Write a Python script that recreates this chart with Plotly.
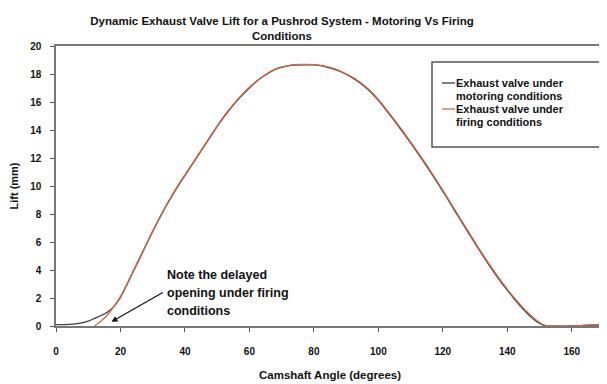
import plotly.graph_objects as go

# ---- data ----
series_names = ["Exhaust valve under motoring conditions",
                "Exhaust valve under firing conditions"]
legend_lines = [["Exhaust valve under", "motoring conditions"],
                ["Exhaust valve under", "firing conditions"]]

angle_motoring = [0, 2, 4, 6, 8, 10, 12, 14, 16, 18, 20, 22, 24, 26, 28, 30, 32, 34, 36, 38,
                  40, 42, 44, 46, 48, 50, 52, 54, 56, 58, 60, 62, 64, 66, 68, 70, 72, 74, 76,
                  78, 80, 82, 84, 86, 88, 90, 92, 94, 96, 98, 100, 102, 104, 106, 108, 110,
                  112, 114, 116, 118, 120, 122, 124, 126, 128, 130, 132, 134, 136, 138, 140,
                  142, 144, 146, 148, 150, 152, 160, 170]
lift_motoring = [0.1, 0.1, 0.12, 0.15, 0.22, 0.35, 0.55, 0.75, 1.0, 1.4, 2.05, 2.95, 3.9, 4.85,
                 5.8, 6.75, 7.65, 8.5, 9.3, 10.05, 10.75, 11.45, 12.15, 12.85, 13.55, 14.25,
                 14.9, 15.5, 16.05, 16.55, 17.0, 17.42, 17.78, 18.08, 18.32, 18.48, 18.58,
                 18.64, 18.66, 18.66, 18.65, 18.6, 18.5, 18.37, 18.2, 17.98, 17.72, 17.42,
                 17.05, 16.62, 16.12, 15.55, 14.95, 14.35, 13.72, 13.08, 12.42, 11.75, 11.06,
                 10.35, 9.62, 8.88, 8.12, 7.38, 6.64, 5.9, 5.18, 4.48, 3.8, 3.16, 2.56, 1.98,
                 1.45, 0.95, 0.52, 0.18, 0.0, 0.0, 0.0]

angle_firing = [12, 14, 16, 18, 20, 22, 24, 26, 28, 30, 32, 34, 36, 38, 40, 42, 44, 46, 48, 50,
                52, 54, 56, 58, 60, 62, 64, 66, 68, 70, 72, 74, 76, 78, 80, 82, 84, 86, 88, 90,
                92, 94, 96, 98, 100, 102, 104, 106, 108, 110, 112, 114, 116, 118, 120, 122, 124,
                126, 128, 130, 132, 134, 136, 138, 140, 142, 144, 146, 148, 150, 152, 154, 162,
                164, 166, 168, 170]
lift_firing = [0.0, 0.35, 0.8, 1.4, 2.1, 3.0, 3.95, 4.9, 5.85, 6.8, 7.7, 8.55, 9.35, 10.1,
               10.8, 11.5, 12.2, 12.9, 13.6, 14.3, 14.95, 15.55, 16.1, 16.6, 17.05, 17.45,
               17.8, 18.1, 18.35, 18.5, 18.6, 18.66, 18.68, 18.68, 18.67, 18.62, 18.53, 18.4,
               18.23, 18.02, 17.77, 17.47, 17.1, 16.68, 16.18, 15.62, 15.02, 14.42, 13.8,
               13.16, 12.5, 11.83, 11.14, 10.43, 9.7, 8.96, 8.2, 7.46, 6.72, 5.98, 5.26, 4.56,
               3.88, 3.24, 2.64, 2.06, 1.53, 1.03, 0.6, 0.25, 0.03, 0.0, 0.0, 0.08, 0.1, 0.1,
               0.08]

x_ticks = [0, 20, 40, 60, 80, 100, 120, 140, 160]
y_ticks = [0, 2, 4, 6, 8, 10, 12, 14, 16, 18, 20]

title_text = "Dynamic Exhaust Valve Lift for a Pushrod System - Motoring Vs Firing<br>Conditions"
x_title = "Camshaft Angle (degrees)"
y_title = "Lift (mm)"
note_lines = ["Note the delayed", "opening under firing", "conditions"]

colors = ["#3c3c3c", "#cf6a4a"]
FONT = "Liberation Sans, Arial, sans-serif"

fig = go.Figure()
fig.add_trace(go.Scatter(x=angle_motoring, y=lift_motoring, mode="lines",
                         name=series_names[0], line=dict(color=colors[0], width=1.3,
                                                         shape="spline", smoothing=0.6),
                         showlegend=False))
fig.add_trace(go.Scatter(x=angle_firing, y=lift_firing, mode="lines",
                         name=series_names[1], line=dict(color=colors[1], width=1.3,
                                                         shape="spline", smoothing=0.6),
                         showlegend=False))

# page has an 8px body margin: figure pixel = page pixel - 8
OFF = 8
W, H = 599, 376
L, R, T, B = 56 - OFF, 3, 46 - OFF, 376 - (326 - OFF)

def px_x(p):
    return (p - OFF - L) / (W - L - R)

def px_y(p):
    return 1 - (p - OFF - T) / (H - T - B)

# manual legend (box, sample lines, text)
fig.add_shape(type="rect", xref="paper", yref="paper",
              x0=px_x(432), x1=px_x(600), y0=px_y(147), y1=px_y(62),
              line=dict(color="#555555", width=1.5), fillcolor="white", layer="above")
entry_y = [(83, 96), (109, 122)]
for i, (ya, yb) in enumerate(entry_y):
    fig.add_shape(type="line", xref="paper", yref="paper",
                  x0=px_x(442), x1=px_x(455), y0=px_y(ya), y1=px_y(ya),
                  line=dict(color=colors[i], width=1.3), layer="above")
    for txt, yy in zip(legend_lines[i], (ya, yb)):
        fig.add_annotation(text=txt, xref="paper", yref="paper",
                           x=px_x(455), y=px_y(yy), xanchor="left", yanchor="middle",
                           showarrow=False, borderpad=0,
                           font=dict(family=FONT, size=11, color="#111", weight="bold"))

# note annotation
for txt, yy in zip(note_lines, (275, 293, 311)):
    fig.add_annotation(text=txt, xref="paper", yref="paper",
                       x=px_x(166), y=px_y(yy), xanchor="left", yanchor="middle",
                       showarrow=False, borderpad=0,
                       font=dict(family=FONT, size=12.5, color="#111", weight="bold"))
fig.add_annotation(text="", x=17.2, y=0.3, xref="x", yref="y",
                   ax=33.6, ay=2.45, axref="x", ayref="y",
                   showarrow=True, arrowhead=2, arrowsize=1, arrowwidth=1.2,
                   arrowcolor="#111", standoff=0, startstandoff=0)

axis_font = dict(family=FONT, size=10, color="#111", weight="bold")
fig.update_layout(
    width=W, height=H,
    margin=dict(l=L, r=R, t=T, b=B, autoexpand=False),
    paper_bgcolor="white", plot_bgcolor="white",
    title=dict(text=title_text, x=(282 - OFF) / W, xanchor="center",
               y=1 - 17 / H, yanchor="top", yref="container", automargin=False,
               font=dict(family=FONT, size=11.5, color="#111", weight="bold")),
    xaxis=dict(range=[0, 170], tickvals=x_ticks, ticks="outside", ticklen=4,
               tickcolor="#555", tickwidth=1.2, showgrid=False, zeroline=False,
               showline=True, linecolor="#777", linewidth=1.5, mirror=True,
               tickfont=axis_font, ticklabelstandoff=11, automargin=False,
               title=dict(text=x_title, standoff=15,
                          font=dict(family=FONT, size=11.5, color="#111", weight="bold"))),
    yaxis=dict(range=[0, 20], tickvals=y_ticks, ticks="outside", ticklen=4,
               tickcolor="#555", tickwidth=1.2, showgrid=False, zeroline=False,
               showline=True, linecolor="#777", linewidth=1.5, mirror=True,
               tickfont=axis_font, ticklabelstandoff=7, automargin=False,
               title=dict(text=y_title, standoff=11,
                          font=dict(family=FONT, size=11, color="#111", weight="bold"))),
    showlegend=False,
)

fig.write_html("out.html")
